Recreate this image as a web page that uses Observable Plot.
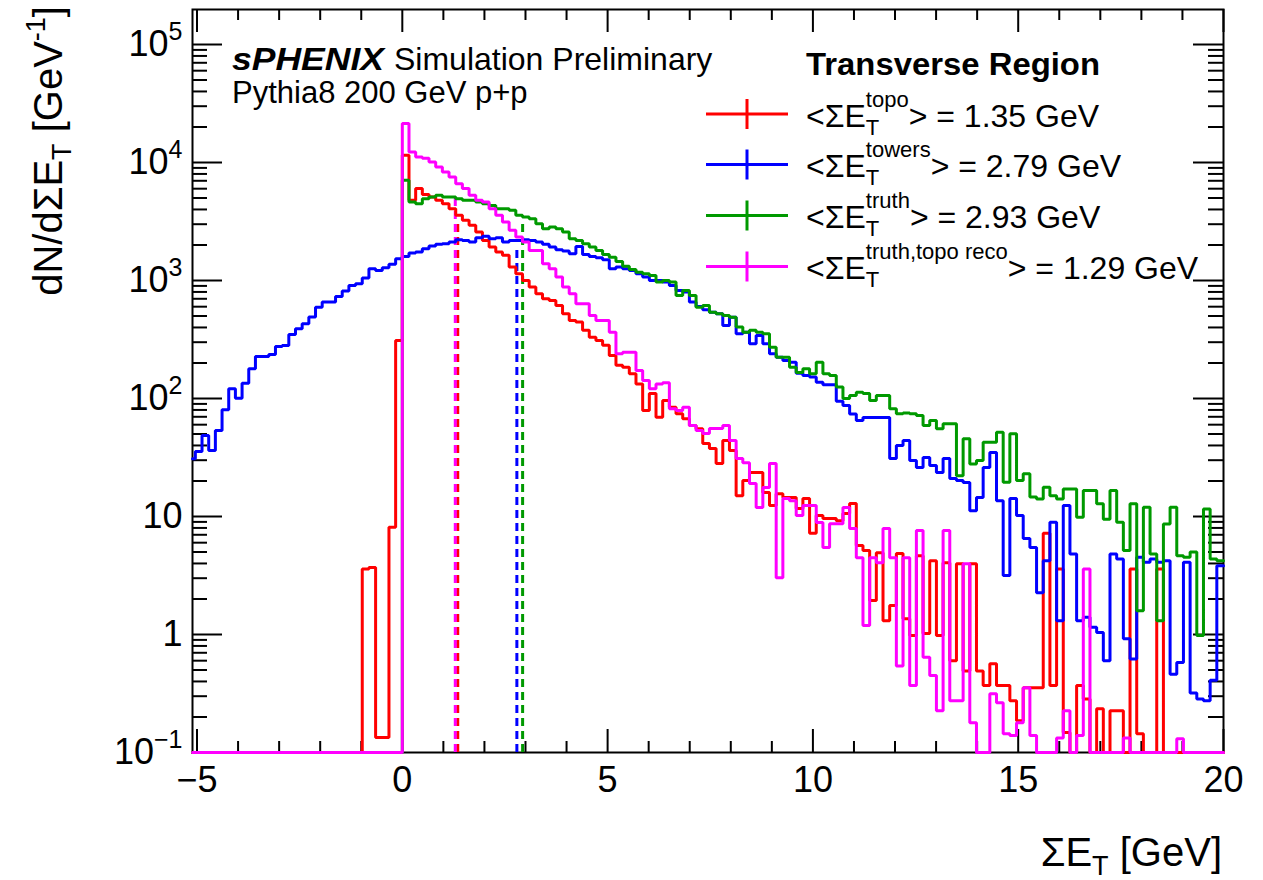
<!DOCTYPE html>
<html>
<head>
<meta charset="utf-8">
<script src="https://cdn.jsdelivr.net/npm/d3@7"></script>
<script src="https://cdn.jsdelivr.net/npm/@observablehq/plot@0.6"></script>
<style>
  body { margin: 0; background: #fff; }
  #chart svg { font-family: "Liberation Sans", Arial, Helvetica, sans-serif; display: block; }
</style>
</head>
<body>
<div id="chart"></div>
<script>
// Histogram binning: bins of width 20/123 GeV, edges at k * binWidth, first bin k = -32
const binWidth = 20 / 123;
const firstBin = -32;
const xMin = -5.11, xMax = 20;
const yMin = 0.1, yMax = 1.98e5;

// dN/dΣE_T per bin, k = -32 ... 122
const towers = [
  30.8, 35.5, 48.5, 36.2, 53.5, 80.2, 120.8, 100.6, 134.9, 178.6,
  227, 227, 236, 276, 281, 349, 390, 430, 490, 594,
  656, 656, 733, 813, 908, 940, 1048, 1259, 1218, 1284, 1370, 1531,
  1600, 1707, 1742, 1862, 1960, 2024, 2052, 2118, 2220, 2188,
  2118, 2307, 2366, 2263, 2307, 2118, 2188, 2188, 2220, 2188,
  2118, 2024, 1919, 1824, 1775, 1687, 1946, 1663, 1600, 1560,
  1500, 1259, 1300, 1259, 1218, 1142, 1069, 1002, 1002, 969,
  908, 824, 798, 656, 603, 565, 539, 522, 416, 489,
  354, 365, 291, 342, 291, 239, 224, 210, 203, 164,
  157, 152, 137, 131, 131, 95, 87.3, 74, 65, 69,
  69, 69, 69, 31, 39.9, 44, 29.8, 26, 31.6, 27,
  23.6, 31, 21, 20.2, 19.4, 11.2, 14.5, 26, 34.8, 13.6,
  3.16, 14.2, 10.2, 6.5, 5.45, 2.26, 4.22, 8.93, 1.31, 12.4,
  4.82, 1.31, 1.4, 1.15, 1.04, 0.6, 4.82, 4.36, 0.92, 0.62,
  4.51, 4.09, 4.36, 4.09, 4.22, 0.46, 0.58, 4.09, 0.32, 0.284,
  0.275, 0.41, 3.83
];

const topo = [
  0, 0, 0, 0, 0, 0, 0, 0, 0, 0,
  0, 0, 0, 0, 0, 0, 0, 0, 0, 0,
  0, 0, 0, 0, 0, 0, 3.59, 3.7, 0.134, 0.134, 8.1, 310,
  11500, 4780, 6010, 5360, 5100, 4780, 4480, 4060, 3570, 3240,
  2935, 2575, 2188, 1919, 1742, 1633, 1300, 1142, 1002, 879,
  773, 701, 678, 615, 522, 459, 444, 378, 330, 310,
  282, 232, 191, 184, 162, 133, 79, 110, 69.4, 96,
  84.4, 74.1, 67.3, 59, 55.4, 41.5, 37.7, 28.1, 44, 36.2,
  15, 20.2, 23.6, 23.6, 16, 12.4, 15.6, 14.5, 14.5, 11.7,
  14.2, 7.2, 10.2, 9.6, 9.6, 9.2, 10.6, 12.9, 5.67, 5.14,
  1.94, 4.94, 1.31, 1.76, 4.85, 1.36, 0.98, 4.66, 1.02, 4.22,
  0.98, 4.06, 0.6, 3.98, 0.49, 3.98, 0.49, 0.37, 0.565, 0.37,
  0.37, 0.275, 0.186, 0.354, 0.354, 0.354, 7.2, 0.37, 3.59, 0.148,
  0, 0.37, 0.284, 0, 0.235, 0, 0.226, 0.226, 0, 3.59,
  0.144, 0, 0, 3.59, 0, 0, 0, 0, 0, 0,
  0, 0, 0
];

const truth = [
  0, 0, 0, 0, 0, 0, 0, 0, 0, 0,
  0, 0, 0, 0, 0, 0, 0, 0, 0, 0,
  0, 0, 0, 0, 0, 0, 0, 0, 0, 0, 0, 0,
  7060, 4620, 4480, 4940, 5100, 5270, 5100, 5100, 4940, 4780,
  4780, 4620, 4480, 4330, 4060, 4060, 3930, 3570, 3450, 3345,
  3030, 2750, 2840, 2750, 2575, 2263, 2188, 2052, 1919, 1800,
  1663, 1578, 1450, 1320, 1240, 1175, 1142, 1105, 969, 1002,
  969, 748, 824, 748, 594, 615, 539, 522, 505, 489,
  403, 365, 378, 365, 354, 272, 224, 224, 184, 166,
  179, 162, 203, 162, 157, 125, 100, 106, 113, 110,
  96, 106, 106, 81.8, 74.1, 75.5, 74.1, 71.8, 59, 65.1,
  55.4, 61, 61, 22.2, 45.5, 27.9, 29.8, 42.6, 42.6, 51.8,
  19.5, 50.2, 20.2, 23, 14.6, 14.1, 17.7, 15, 14.1, 17.1,
  17.1, 9.85, 16.6, 16.6, 12.8, 9.5, 16.6, 8.93, 5.14, 12.8,
  1.59, 12, 4.82, 1.31, 8.65, 12, 4.66, 4.51, 5.0, 0.98,
  11.6, 4.36, 4.22
];

const truthTopoReco = [
  0, 0, 0, 0, 0, 0, 0, 0, 0, 0,
  0, 0, 0, 0, 0, 0, 0, 0, 0, 0,
  0, 0, 0, 0, 0, 0, 0, 0, 0, 0, 0, 0,
  21400, 12270, 11140, 10860, 10090, 9160, 8300, 7530, 6620, 6010,
  5270, 4780, 4620, 4060, 3570, 3130, 2662, 2335, 2118, 1800,
  1800, 1387, 1259, 1069, 879, 773, 635, 635, 505, 459,
  459, 365, 239, 247, 247, 173, 142, 121, 133, 136,
  81.8, 79.1, 84.4, 59, 53.6, 50.5, 55.7, 55.7, 59, 44,
  31, 28.6, 19, 11.9, 17.6, 28.1, 3.03, 14.2, 13.6, 10.2,
  12.4, 12.4, 8.88, 5.45, 8.7, 8.7, 11.9, 7.9, 4.48, 1.19,
  4.48, 4.06, 7.9, 4.48, 0.54, 4.48, 0.37, 7.6, 0.64, 0.45,
  0.226, 7.6, 0.275, 0.275, 3.98, 0.179, 0, 0, 0.315, 0.264,
  0.144, 0.139, 0.179, 0.354, 0.139, 0, 0, 0, 0.133, 0.226,
  0, 0.139, 3.59, 0, 0, 0, 0, 0, 0.133, 0,
  0, 0, 0, 0, 0, 0, 0.131, 0, 0, 0,
  0, 0, 0
];

// Mean values and heights of the dashed marker lines
const seriesNames = ["topo", "towers", "truth", "truth,topo reco"];
const seriesMeans = [1.35, 2.79, 2.93, 1.29];
const markerHeights = [3240, 1862, 3130, 5070];
const seriesColors = ["#ff0000", "#0000ff", "#009900", "#ff00ff"];

// Axis ticks
const xMajor = [-5, 0, 5, 10, 15, 20];
const xMinor = d3.range(-5, 21).filter(v => v % 5 !== 0);
const yMajor = [0.1, 1, 10, 100, 1e3, 1e4, 1e5];
const yMinor = yMajor.flatMap(d => d3.range(2, 10).map(m => m * d)).filter(v => v < yMax);
const yLabels = ["10^−1", "1", "10", "10^2", "10^3", "10^4", "10^5"];

function stepPoints(values) {
  const pts = values.map((v, i) => ({
    x: Math.max((firstBin + i) * binWidth, xMin),
    y: Math.max(v, yMin)
  }));
  pts.push({x: (firstBin + values.length) * binWidth, y: pts[pts.length - 1].y});
  return pts;
}

const histos = [topo, towers, truth, truthTopoReco];
const markers = seriesMeans.map((m, i) => ({mean: m, top: markerHeights[i], color: seriesColors[i]}));

const W = 1263, H = 880;
const mL = 192, mR = 40, mT = 9, mB = 128;
const fw = W - mL - mR, fh = H - mT - mB;

const svg = Plot.plot({
  width: W, height: H,
  marginLeft: mL, marginRight: mR, marginTop: mT, marginBottom: mB,
  style: {background: "white", color: "black", fontSize: "36px", fontFamily: "Liberation Sans, Arial, sans-serif"},
  x: {domain: [xMin, xMax]},
  y: {type: "log", domain: [yMin, yMax]},
  marks: [
    Plot.axisX({ticks: xMajor, tickSize: 0, tickPadding: 14, label: null, fontSize: 36}),
    Plot.axisY({ticks: yMajor, tickSize: 0, tickPadding: 10, label: null, fontSize: 36,
                tickFormat: v => yLabels[yMajor.indexOf(v)]}),
    // inward ticks on all four sides
    Plot.tickX(xMajor, {x: d => d, insetTop: fh - 23, stroke: "black", strokeWidth: 2}),
    Plot.tickX(xMinor, {x: d => d, insetTop: fh - 11, stroke: "black", strokeWidth: 2}),
    Plot.tickX(xMajor, {x: d => d, insetBottom: fh - 23, stroke: "black", strokeWidth: 2}),
    Plot.tickX(xMinor, {x: d => d, insetBottom: fh - 11, stroke: "black", strokeWidth: 2}),
    Plot.tickY(yMajor, {y: d => d, insetRight: fw - 30, stroke: "black", strokeWidth: 2}),
    Plot.tickY(yMinor, {y: d => d, insetRight: fw - 15, stroke: "black", strokeWidth: 2}),
    Plot.tickY(yMajor, {y: d => d, insetLeft: fw - 30, stroke: "black", strokeWidth: 2}),
    Plot.tickY(yMinor, {y: d => d, insetLeft: fw - 15, stroke: "black", strokeWidth: 2}),
    Plot.frame({stroke: "black", strokeWidth: 2}),
    // dashed lines at the mean of each distribution
    Plot.ruleX(markers, {x: "mean", y1: yMin, y2: "top", stroke: "color", strokeWidth: 3, strokeDasharray: "8,5"}),
    // step histograms
    ...histos.map((h, i) => Plot.line(stepPoints(h), {
      x: "x", y: "y", curve: "step-after", stroke: seriesColors[i], strokeWidth: 3, strokeLinejoin: "miter"
    }))
  ]
});

document.getElementById("chart").appendChild(svg);
const root = d3.select(svg);

// exponents on the y tick labels
root.selectAll('g[aria-label="y-axis tick label"] text').each(function () {
  const s = this.textContent;
  if (s.includes("^")) {
    const [base, exp] = s.split("^");
    const t = d3.select(this);
    t.text(base);
    t.append("tspan").attr("dy", "-16").style("font-size", "25px").text(exp);
  }
});

// annotation layer with its own text alignment
const ann = root.append("g").attr("text-anchor", "start").attr("fill", "black");

// axis titles
const yTitle = ann.append("text")
  .attr("transform", "translate(62,6) rotate(-90)")
  .attr("text-anchor", "end")
  .style("font-size", "40px");
yTitle.append("tspan").text("dN/dΣE");
yTitle.append("tspan").attr("dy", 9).style("font-size", "27px").text("T");
yTitle.append("tspan").attr("dy", -9).text(" [GeV");
yTitle.append("tspan").attr("dy", -17).style("font-size", "27px").text("-1");
yTitle.append("tspan").attr("dy", 17).text("]");

const xTitle = ann.append("text")
  .attr("x", 1222).attr("y", 866)
  .attr("text-anchor", "end")
  .style("font-size", "40px");
xTitle.append("tspan").text("ΣE");
xTitle.append("tspan").attr("dy", 9).style("font-size", "27px").text("T");
xTitle.append("tspan").attr("dy", -9).text(" [GeV]");

// experiment label
const lab = ann.append("text").attr("x", 232).attr("y", 70).style("font-size", "32px");
lab.append("tspan").style("font-weight", "bold").style("font-style", "italic")
  .attr("textLength", 152).attr("lengthAdjust", "spacingAndGlyphs").text("sPHENIX");
lab.append("tspan").attr("dx", 10).text("Simulation Preliminary");
ann.append("text").attr("x", 232).attr("y", 103).style("font-size", "31px").text("Pythia8 200 GeV p+p");

// legend
ann.append("text").attr("x", 806).attr("y", 75)
  .style("font-size", "32px").style("font-weight", "bold")
  .attr("textLength", 294).attr("lengthAdjust", "spacingAndGlyphs").text("Transverse Region");
const rowY = [114, 164.5, 215.5, 266.5];
seriesNames.forEach((name, i) => {
  const y = rowY[i];
  const c = seriesColors[i];
  ann.append("line").attr("x1", 706).attr("x2", 788).attr("y1", y).attr("y2", y)
    .attr("stroke", c).attr("stroke-width", 3);
  ann.append("line").attr("x1", 747).attr("x2", 747).attr("y1", y - 15).attr("y2", y + 15)
    .attr("stroke", c).attr("stroke-width", 3);
  const t = ann.append("text").attr("x", 806).attr("y", y + 12.5).style("font-size", "32px");
  t.append("tspan").text("<ΣE");
  t.append("tspan").attr("dy", 8).style("font-size", "22px").text("T");
  t.append("tspan").attr("dx", -13.4).attr("dy", -28).style("font-size", "22px").text(name);
  t.append("tspan").attr("dy", 20).text(`> = ${seriesMeans[i].toFixed(2)} GeV`);
});
</script>
</body>
</html>
